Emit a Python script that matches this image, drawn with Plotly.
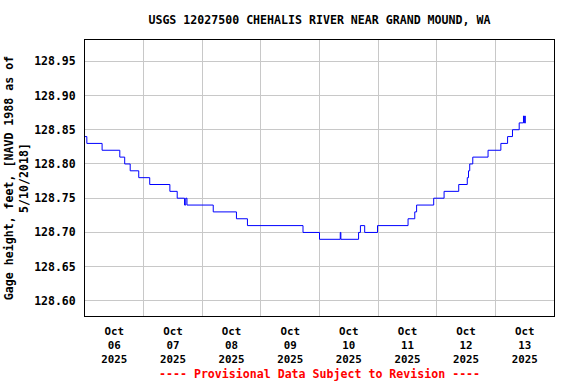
import plotly.graph_objects as go

# Step changes of gage height (time, value)
times = [
    "2025-10-06 00:00", "2025-10-06 00:45", "2025-10-06 07:00", "2025-10-06 14:15",
    "2025-10-06 16:15", "2025-10-06 18:30", "2025-10-06 22:00", "2025-10-07 02:30",
    "2025-10-07 10:45", "2025-10-07 13:45", "2025-10-07 16:45", "2025-10-07 17:15",
    "2025-10-07 17:45", "2025-10-08 04:30", "2025-10-08 14:00", "2025-10-08 18:30",
    "2025-10-09 17:15", "2025-10-10 00:00", "2025-10-10 08:30", "2025-10-10 08:45",
    "2025-10-10 16:00", "2025-10-10 16:45", "2025-10-10 18:30", "2025-10-10 23:45",
    "2025-10-11 12:15", "2025-10-11 15:00", "2025-10-11 15:45", "2025-10-11 22:45",
    "2025-10-12 03:00", "2025-10-12 09:00", "2025-10-12 12:30", "2025-10-12 13:00",
    "2025-10-12 13:30", "2025-10-12 14:45", "2025-10-12 21:00", "2025-10-13 02:15",
    "2025-10-13 05:00", "2025-10-13 07:00", "2025-10-13 09:45", "2025-10-13 11:30",
    "2025-10-13 11:45", "2025-10-13 12:00", "2025-10-13 12:15", "2025-10-13 12:30",
]
values = [
    128.84, 128.83, 128.82, 128.81,
    128.80, 128.79, 128.78, 128.77,
    128.76, 128.75, 128.74, 128.75,
    128.74, 128.73, 128.72, 128.71,
    128.70, 128.69, 128.70, 128.69,
    128.70, 128.71, 128.70, 128.71,
    128.72, 128.73, 128.74, 128.75,
    128.76, 128.77, 128.78, 128.79,
    128.80, 128.81, 128.82, 128.83,
    128.84, 128.85, 128.86, 128.87,
    128.86, 128.87, 128.86, 128.86,
]

tick_positions = [f"2025-10-{d:02d} 12:00" for d in range(6, 14)]
tick_labels = [f"Oct<br>{d:02d}<br>2025" for d in range(6, 14)]
y_ticks = [128.60, 128.65, 128.70, 128.75, 128.80, 128.85, 128.90, 128.95]

font_family = "DejaVu Sans Mono"

fig = go.Figure()
fig.add_trace(go.Scatter(
    x=times, y=values, mode="lines", line_shape="hv",
    line=dict(color="#0000FF", width=1), showlegend=False,
    hoverinfo="skip",
))

fig.update_layout(
    width=576, height=384,
    margin=dict(l=85, r=22, t=40, b=68, autoexpand=False),
    paper_bgcolor="white", plot_bgcolor="white",
    font=dict(family=font_family, size=12, color="black", weight="bold"),
    title=dict(
        text="USGS 12027500 CHEHALIS RIVER NEAR GRAND MOUND, WA",
        x=0.5546, xanchor="center", y=0.948, yanchor="middle",
        font=dict(family=font_family, size=11.6, color="black", weight="bold"),
    ),
    xaxis=dict(
        range=["2025-10-06 00:00", "2025-10-14 00:00"],
        tickmode="array", tickvals=tick_positions, ticktext=tick_labels,
        showgrid=False, ticks="", tickfont=dict(size=10.8),
        ticklabelstandoff=5, automargin=False,
        showline=True, linecolor="black", linewidth=1, mirror=True,
        minor=dict(tick0="2025-10-06", dtick=86400000, showgrid=True,
                   gridcolor="#c8c8c8", gridwidth=1, ticks=""),
        zeroline=False,
    ),
    yaxis=dict(
        range=[128.578, 128.981],
        tickmode="array", tickvals=y_ticks,
        ticktext=[f"{v:.2f}" for v in y_ticks],
        showgrid=True, gridcolor="#c8c8c8", gridwidth=1,
        ticks="", ticklen=0, tickfont=dict(size=11.5),
        ticklabelstandoff=6, automargin=False,
        showline=True, linecolor="black", linewidth=1, mirror=True,
        zeroline=False,
        title=dict(text="Gage height, feet, [NAVD 1988 as of<br>5/10/2018]",
                   font=dict(size=11.6), standoff=3),
    ),
)

fig.add_annotation(
    text="---- Provisional Data Subject to Revision ----",
    xref="paper", yref="paper", x=0.5, y=-0.211, yanchor="middle",
    showarrow=False, font=dict(family=font_family, size=11.6, color="#FF0000", weight="bold"),
)

fig.write_html(
    "out.html",
    config={"displayModeBar": False},
    post_script="document.body.style.margin='0';document.body.style.overflow='hidden';",
)
